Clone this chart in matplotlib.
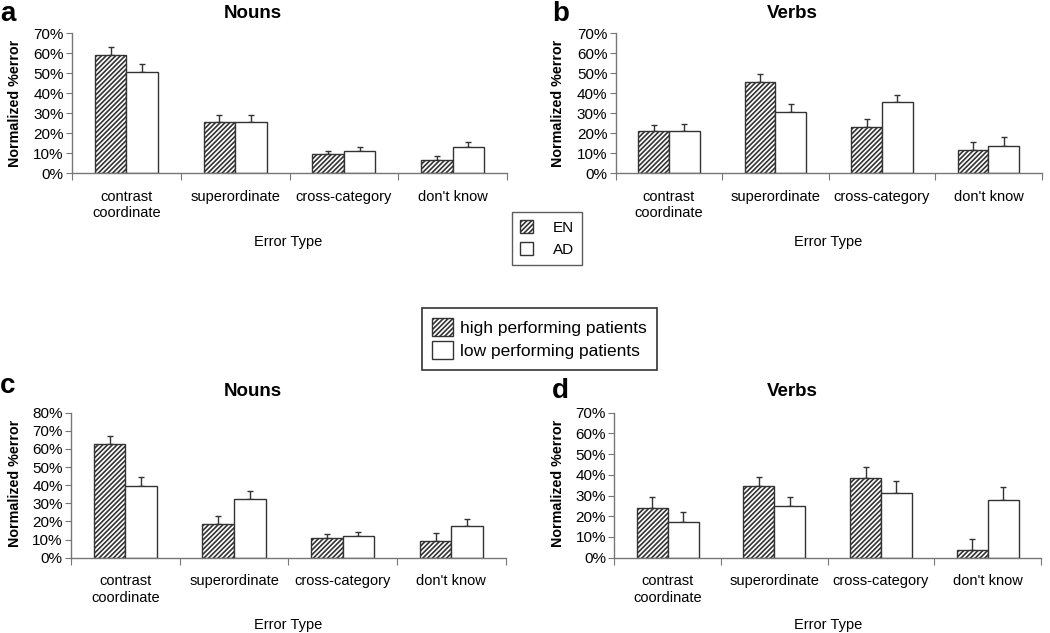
import numpy as np
import matplotlib
matplotlib.use("Agg")
import matplotlib.pyplot as plt
from matplotlib.patches import Patch
from matplotlib.ticker import PercentFormatter

plt.rcParams['font.family'] = ['Liberation Sans', 'DejaVu Sans']
plt.rcParams['hatch.linewidth'] = 1.2

categories = ["contrast\ncoordinate", "superordinate", "cross-category", "don't know"]

# panel a: nouns, EN vs AD
a_en = [59, 25.5, 9.5, 6.7]
a_en_err = [4, 3.8, 1.8, 2.0]
a_ad = [50.8, 25.5, 11.2, 13.2]
a_ad_err = [4, 3.8, 2.0, 2.3]

# panel b: verbs, EN vs AD
b_en = [21, 45.5, 23.3, 11.5]
b_en_err = [3.3, 4.0, 3.8, 4.2]
b_ad = [21.2, 30.8, 35.6, 13.8]
b_ad_err = [3.4, 3.8, 3.8, 4.3]

# panel c: nouns, high vs low performing patients
c_hi = [62.5, 18.7, 11.0, 9.2]
c_hi_err = [4.6, 4.3, 2.0, 4.2]
c_lo = [39.4, 32.5, 11.8, 17.5]
c_lo_err = [5.0, 4.5, 2.4, 3.9]

# panel d: verbs, high vs low performing patients
d_hi = [24.2, 34.7, 38.5, 3.5]
d_hi_err = [5.0, 4.1, 5.2, 5.5]
d_lo = [17.0, 25.0, 31.4, 27.7]
d_lo_err = [5.3, 4.4, 5.8, 6.4]

HATCH = '///////'

W, H = 1050, 633
fig = plt.figure(figsize=(W / 100, H / 100), dpi=100)


def px_axes(left, right, top, bottom):
    return fig.add_axes([left / W, 1 - bottom / H, (right - left) / W, (bottom - top) / H])


def draw_panel(ax, s1, e1, s2, e2, ymax):
    x = np.arange(len(categories))
    w = 0.29
    ax.bar(x - w / 2, s1, w, color='white', edgecolor='#333333', hatch=HATCH, linewidth=1.0, zorder=2)
    ax.bar(x + w / 2, s2, w, color='white', edgecolor='#333333', linewidth=1.0, zorder=2)
    ax.errorbar(x - w / 2, s1, yerr=[np.zeros(4), e1], fmt='none', ecolor='#333333',
                elinewidth=1.0, capsize=2.5, capthick=1.0, zorder=1)
    ax.errorbar(x + w / 2, s2, yerr=[np.zeros(4), e2], fmt='none', ecolor='#333333',
                elinewidth=1.0, capsize=2.5, capthick=1.0, zorder=1)
    ax.set_xlim(-0.5, 3.5)
    ax.set_ylim(0, ymax)
    ax.set_yticks(np.arange(0, ymax + 1, 10))
    ax.yaxis.set_major_formatter(PercentFormatter(decimals=0))
    ax.set_xticks(np.arange(-0.5, 4, 1.0))
    ax.set_xticklabels([])
    ax.set_xticks(x, minor=True)
    ax.set_xticklabels(categories, minor=True, fontsize=10.5)
    ax.tick_params(axis='x', which='minor', length=0, pad=12)
    ax.tick_params(axis='x', which='major', length=5, color='#777777', direction='out')
    ax.tick_params(axis='y', length=4, color='#777777', labelsize=11, pad=2)
    for s in ['top', 'right']:
        ax.spines[s].set_visible(False)
    for s in ['left', 'bottom']:
        ax.spines[s].set_color('#777777')
        ax.spines[s].set_linewidth(1.0)


ax_a = px_axes(72, 507, 33.5, 173.5)
draw_panel(ax_a, a_en, a_en_err, a_ad, a_ad_err, 70)
ax_b = px_axes(615.7, 1041.7, 33.5, 173.5)
draw_panel(ax_b, b_en, b_en_err, b_ad, b_ad_err, 70)
ax_c = px_axes(71, 505.7, 412.7, 557.7)
draw_panel(ax_c, c_hi, c_hi_err, c_lo, c_lo_err, 80)
ax_d = px_axes(614.3, 1041, 412.7, 557.7)
draw_panel(ax_d, d_hi, d_hi_err, d_lo, d_lo_err, 70)


def ftext(x, y, s, **kw):
    fig.text(x / W, 1 - y / H, s, **kw)


# panel letters and titles
ftext(0, 14, 'a', fontsize=20, fontweight='bold', va='center', ha='left')
ftext(552, 14, 'b', fontsize=20, fontweight='bold', va='center', ha='left')
ftext(0, 386, 'c', fontsize=20, fontweight='bold', va='center', ha='left')
ftext(552, 391, 'd', fontsize=20, fontweight='bold', va='center', ha='left')
ftext(253, 14, 'Nouns', fontsize=13.5, fontweight='bold', va='center', ha='center')
ftext(792, 14, 'Verbs', fontsize=13.5, fontweight='bold', va='center', ha='center')
ftext(253, 392, 'Nouns', fontsize=13.5, fontweight='bold', va='center', ha='center')
ftext(792, 392, 'Verbs', fontsize=13.5, fontweight='bold', va='center', ha='center')

# axis titles
for x, y in [(15, 103), (558, 103), (15, 483), (558, 483)]:
    ftext(x, y, 'Normalized %error', fontsize=10.3, fontweight='bold', rotation=90,
          va='center', ha='center')
for x, y in [(288, 242), (828, 242), (288, 625), (828, 625)]:
    ftext(x, y, 'Error Type', fontsize=10.5, va='center', ha='center')

# legends
h1 = [Patch(facecolor='white', edgecolor='#333333', hatch=HATCH),
      Patch(facecolor='white', edgecolor='#333333')]
leg1 = fig.legend(h1, ['EN', 'AD'], loc='upper left', bbox_to_anchor=(512 / W, 1 - 212 / H),
                  fontsize=11, frameon=True, fancybox=False, edgecolor='#333333',
                  handlelength=0.8, handleheight=0.9, handletextpad=1.3, borderpad=0.55,
                  labelspacing=0.45, borderaxespad=0)
leg1.get_frame().set_linewidth(1.0)
leg2 = fig.legend(h1, ['high performing patients', 'low performing patients'], loc='upper left',
                  bbox_to_anchor=(422 / W, 1 - 308 / H), fontsize=12.5, frameon=True,
                  fancybox=False, edgecolor='#000000', handlelength=1.2, handleheight=1.2,
                  handletextpad=0.4, borderpad=0.6, labelspacing=0.3, borderaxespad=0)
leg2.get_frame().set_linewidth(1.2)

fig.savefig('out.png', dpi=100)
